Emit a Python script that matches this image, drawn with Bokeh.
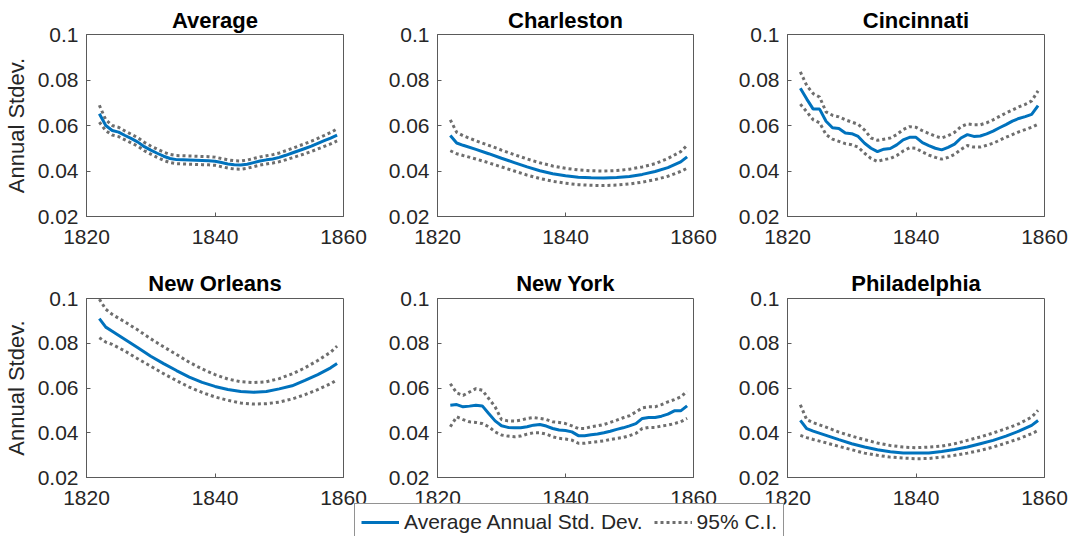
from bokeh.plotting import figure
from bokeh.layouts import column, row
from bokeh.models import Range1d, FixedTicker, Legend, LegendItem
from bokeh.embed import file_html
from bokeh.resources import INLINE

# ---------------- data ----------------
years_annual = list(range(1822, 1860))
years_smooth = [1822, 1823] + list(range(1824, 1859, 2)) + [1859]

x_ticks = [1820, 1840, 1860]
y_ticks = [0.02, 0.04, 0.06, 0.08, 0.1]
y_tick_labels = ["0.02", "0.04", "0.06", "0.08", "0.1"]
titles = ["Average", "Charleston", "Cincinnati", "New Orleans", "New York", "Philadelphia"]
y_label = "Annual Stdev."
legend_labels = ["Average Annual Std. Dev.", "95% C.I."]

avg_mid = [0.0652, 0.0600, 0.0578, 0.0571, 0.0556, 0.0542, 0.0527, 0.0507, 0.0492, 0.0478,
           0.0465, 0.0455, 0.0450, 0.0449, 0.0448, 0.0447, 0.0446, 0.0445, 0.0443, 0.0437,
           0.0431, 0.0427, 0.0426, 0.0430, 0.0437, 0.0444, 0.0449, 0.0453, 0.0460, 0.0469,
           0.0479, 0.0489, 0.0499, 0.0509, 0.0521, 0.0533, 0.0545, 0.0558]
avg_up = [0.0689, 0.0625, 0.0600, 0.0592, 0.0576, 0.0561, 0.0546, 0.0526, 0.0510, 0.0496,
          0.0483, 0.0473, 0.0468, 0.0467, 0.0466, 0.0465, 0.0464, 0.0463, 0.0461, 0.0455,
          0.0449, 0.0445, 0.0444, 0.0448, 0.0455, 0.0462, 0.0467, 0.0472, 0.0479, 0.0489,
          0.0499, 0.0510, 0.0520, 0.0531, 0.0543, 0.0556, 0.0569, 0.0585]
avg_lo = [0.0615, 0.0577, 0.0558, 0.0551, 0.0537, 0.0523, 0.0509, 0.0489, 0.0474, 0.0460,
          0.0447, 0.0437, 0.0432, 0.0431, 0.0430, 0.0429, 0.0428, 0.0427, 0.0425, 0.0419,
          0.0413, 0.0409, 0.0408, 0.0412, 0.0419, 0.0426, 0.0431, 0.0435, 0.0441, 0.0449,
          0.0458, 0.0467, 0.0476, 0.0486, 0.0497, 0.0508, 0.0519, 0.0532]

cha_mid = [0.0556, 0.0523, 0.0513, 0.0495, 0.0476, 0.0456, 0.0437, 0.0418, 0.0401, 0.0388,
           0.0379, 0.0373, 0.0370, 0.0369, 0.0371, 0.0376, 0.0385, 0.0398, 0.0415, 0.0440, 0.0462]
cha_up = [0.0625, 0.0570, 0.0555, 0.0533, 0.0513, 0.0492, 0.0472, 0.0453, 0.0436, 0.0422,
          0.0412, 0.0405, 0.0401, 0.0400, 0.0402, 0.0408, 0.0418, 0.0432, 0.0455, 0.0485, 0.0513]
cha_lo = [0.0489, 0.0476, 0.0468, 0.0453, 0.0436, 0.0418, 0.0400, 0.0382, 0.0367, 0.0355,
          0.0346, 0.0340, 0.0337, 0.0336, 0.0338, 0.0343, 0.0351, 0.0362, 0.0377, 0.0398, 0.0412]

cin_mid = [0.0764, 0.0716, 0.0672, 0.0672, 0.0619, 0.0590, 0.0587, 0.0567, 0.0564, 0.0552,
           0.0522, 0.0500, 0.0485, 0.0496, 0.0499, 0.0515, 0.0537, 0.0548, 0.0548, 0.0525,
           0.0512, 0.0500, 0.0493, 0.0504, 0.0518, 0.0545, 0.0560, 0.0552, 0.0554, 0.0563,
           0.0575, 0.0590, 0.0604, 0.0619, 0.0631, 0.0639, 0.0649, 0.0687]
cin_up = [0.0836, 0.0775, 0.0740, 0.0725, 0.0660, 0.0645, 0.0638, 0.0625, 0.0615, 0.0605,
          0.0580, 0.0545, 0.0535, 0.0540, 0.0545, 0.0560, 0.0582, 0.0595, 0.0592, 0.0577,
          0.0565, 0.0553, 0.0545, 0.0555, 0.0570, 0.0595, 0.0607, 0.0603, 0.0603, 0.0612,
          0.0625, 0.0640, 0.0655, 0.0668, 0.0682, 0.0693, 0.0708, 0.0752]
cin_lo = [0.0694, 0.0660, 0.0625, 0.0612, 0.0560, 0.0540, 0.0530, 0.0520, 0.0515, 0.0505,
          0.0478, 0.0455, 0.0442, 0.0450, 0.0455, 0.0468, 0.0488, 0.0502, 0.0500, 0.0483,
          0.0470, 0.0460, 0.0452, 0.0460, 0.0473, 0.0495, 0.0512, 0.0505, 0.0505, 0.0513,
          0.0522, 0.0535, 0.0548, 0.0560, 0.0572, 0.0582, 0.0592, 0.0606]

nol_mid = [0.0910, 0.0872, 0.0854, 0.0817, 0.0780, 0.0742, 0.0709, 0.0678, 0.0649, 0.0625,
           0.0607, 0.0593, 0.0584, 0.0581, 0.0584, 0.0596, 0.0610, 0.0634, 0.0660, 0.0690, 0.0709]
nol_up = [0.0997, 0.0952, 0.0929, 0.0895, 0.0859, 0.0820, 0.0784, 0.0750, 0.0715, 0.0685,
          0.0660, 0.0640, 0.0628, 0.0624, 0.0628, 0.0642, 0.0663, 0.0690, 0.0723, 0.0760, 0.0787]
nol_lo = [0.0825, 0.0805, 0.0795, 0.0765, 0.0730, 0.0697, 0.0664, 0.0633, 0.0604, 0.0580,
          0.0560, 0.0545, 0.0533, 0.0528, 0.0530, 0.0537, 0.0551, 0.0570, 0.0593, 0.0619, 0.0637]

nyc_mid = [0.0523, 0.0526, 0.0516, 0.0519, 0.0523, 0.0520, 0.0486, 0.0453, 0.0431, 0.0424,
           0.0422, 0.0422, 0.0427, 0.0434, 0.0437, 0.0430, 0.0419, 0.0412, 0.0410, 0.0404,
           0.0387, 0.0387, 0.0391, 0.0394, 0.0400, 0.0407, 0.0415, 0.0422, 0.0431, 0.0441,
           0.0464, 0.0468, 0.0468, 0.0474, 0.0483, 0.0498, 0.0498, 0.0520]
nyc_up = [0.0619, 0.0578, 0.0567, 0.0582, 0.0597, 0.0590, 0.0553, 0.0516, 0.0459, 0.0453,
          0.0452, 0.0456, 0.0464, 0.0468, 0.0464, 0.0459, 0.0449, 0.0446, 0.0441, 0.0431,
          0.0419, 0.0419, 0.0427, 0.0431, 0.0437, 0.0446, 0.0456, 0.0467, 0.0476, 0.0493,
          0.0511, 0.0516, 0.0516, 0.0526, 0.0538, 0.0548, 0.0560, 0.0585]
nyc_lo = [0.0427, 0.0471, 0.0459, 0.0449, 0.0446, 0.0441, 0.0427, 0.0404, 0.0390, 0.0385,
          0.0382, 0.0385, 0.0394, 0.0400, 0.0400, 0.0394, 0.0382, 0.0375, 0.0372, 0.0367,
          0.0353, 0.0353, 0.0357, 0.0360, 0.0364, 0.0370, 0.0375, 0.0379, 0.0387, 0.0397,
          0.0419, 0.0424, 0.0424, 0.0430, 0.0434, 0.0441, 0.0449, 0.0464]

phi_mid = [0.0455, 0.0418, 0.0407, 0.0388, 0.0369, 0.0351, 0.0336, 0.0324, 0.0315, 0.0310,
           0.0309, 0.0310, 0.0316, 0.0325, 0.0336, 0.0351, 0.0366, 0.0385, 0.0407, 0.0433, 0.0455]
phi_up = [0.0525, 0.0458, 0.0445, 0.0425, 0.0403, 0.0385, 0.0369, 0.0354, 0.0343, 0.0336,
          0.0333, 0.0336, 0.0340, 0.0351, 0.0366, 0.0381, 0.0399, 0.0418, 0.0440, 0.0470, 0.0500]
phi_lo = [0.0388, 0.0378, 0.0370, 0.0355, 0.0339, 0.0324, 0.0309, 0.0299, 0.0291, 0.0287,
          0.0284, 0.0285, 0.0291, 0.0299, 0.0309, 0.0321, 0.0336, 0.0354, 0.0373, 0.0396, 0.0410]

panels = [
    (titles[0], years_annual, avg_mid, avg_up, avg_lo),
    (titles[1], years_smooth, cha_mid, cha_up, cha_lo),
    (titles[2], years_annual, cin_mid, cin_up, cin_lo),
    (titles[3], years_smooth, nol_mid, nol_up, nol_lo),
    (titles[4], years_annual, nyc_mid, nyc_up, nyc_lo),
    (titles[5], years_smooth, phi_mid, phi_up, phi_lo),
]

# ---------------- style ----------------
FONT = "Liberation Sans"
TXT = "#262626"
BLUE = "#0072BD"
GRAY = "#6e6e6e"
FRAME = "#5a5a5a"


def make_panel(spec, b_left, b_right, b_top, b_bottom, fw, fh, show_ylabel, title_standoff):
    title, xs, mid, up, lo = spec
    p = figure(width=b_left + fw + b_right, height=b_top + fh + b_bottom,
               x_range=Range1d(1820, 1860), y_range=Range1d(0.02, 0.1),
               output_backend="svg", toolbar_location=None,
               min_border_left=b_left, min_border_right=b_right,
               min_border_top=b_top, min_border_bottom=b_bottom,
               title=title)
    p.title.text_font = FONT
    p.title.text_font_size = "22px"
    p.title.text_font_style = "bold"
    p.title.text_color = "black"
    p.title.align = "center"
    p.title.standoff = title_standoff
    p.outline_line_color = FRAME
    p.outline_line_width = 1
    p.xgrid.visible = False
    p.ygrid.visible = False
    p.background_fill_color = "white"
    p.border_fill_color = "white"

    for ax in (p.xaxis[0], p.yaxis[0]):
        ax.axis_line_color = FRAME
        ax.major_tick_line_color = FRAME
        ax.major_tick_in = 4
        ax.major_tick_out = 0
        ax.minor_tick_line_color = None
        ax.major_label_text_font = FONT
        ax.major_label_text_font_size = "21px"
        ax.major_label_text_color = TXT
    p.xaxis.ticker = FixedTicker(ticks=x_ticks)
    p.xaxis.major_label_standoff = 13
    p.yaxis.ticker = FixedTicker(ticks=y_ticks)
    p.yaxis.major_label_overrides = {t: l for t, l in zip(y_ticks, y_tick_labels)}
    p.yaxis.major_label_standoff = 8
    if show_ylabel:
        p.yaxis.axis_label = y_label
        p.yaxis.axis_label_text_font = FONT
        p.yaxis.axis_label_text_font_size = "22px"
        p.yaxis.axis_label_text_font_style = "normal"
        p.yaxis.axis_label_text_color = TXT
        p.yaxis.axis_label_standoff = 6

    p.line(xs, up, line_color=GRAY, line_width=3, line_dash="3 3")
    p.line(xs, lo, line_color=GRAY, line_width=3, line_dash="3 3")
    p.line(xs, mid, line_color=BLUE, line_width=3)
    return p


figs = []
# row 1
figs.append(make_panel(panels[0], 86, 37, 34, 42, 257, 182, True, 4))
figs.append(make_panel(panels[1], 57, 37, 34, 42, 256, 182, False, 4))
figs.append(make_panel(panels[2], 57, 28, 34, 42, 257, 182, False, 4))
# row 2
figs.append(make_panel(panels[3], 86, 37, 40, 42, 257, 179, True, 6))
figs.append(make_panel(panels[4], 57, 37, 40, 42, 256, 179, False, 6))
figs.append(make_panel(panels[5], 57, 28, 40, 42, 257, 179, False, 6))

# legend strip (proxy renderers drawn off-range, only used for legend glyphs)
leg = figure(width=1072, height=33, x_range=Range1d(0, 1), y_range=Range1d(0, 1),
             output_backend="svg", toolbar_location=None,
             min_border_left=354, min_border_right=0, min_border_top=0, min_border_bottom=0)
leg.axis.visible = False
leg.xgrid.visible = False
leg.ygrid.visible = False
leg.outline_line_color = None
leg.background_fill_alpha = 0
leg.border_fill_alpha = 0
l1 = leg.line(years_annual, avg_mid, line_color=BLUE, line_width=3)
l2 = leg.line(years_annual, avg_up, line_color=GRAY, line_width=3, line_dash="3 3")
legend = Legend(items=[LegendItem(label=legend_labels[0], renderers=[l1]),
                       LegendItem(label=legend_labels[1], renderers=[l2])],
                location="top_left", orientation="horizontal", margin=0,
                padding=6, spacing=11, glyph_width=38, label_standoff=5,
                label_text_font=FONT, label_text_font_size="21px", label_text_color=TXT,
                border_line_color="#262626", border_line_width=1,
                background_fill_color="white", background_fill_alpha=1)
leg.add_layout(legend, "center")
leg.margin = (-16, 0, 0, 0)

layout = column(row(figs[0], figs[1], figs[2]), row(figs[3], figs[4], figs[5]), leg)

with open("out.html", "w") as f:
    f.write(file_html(layout, INLINE))
